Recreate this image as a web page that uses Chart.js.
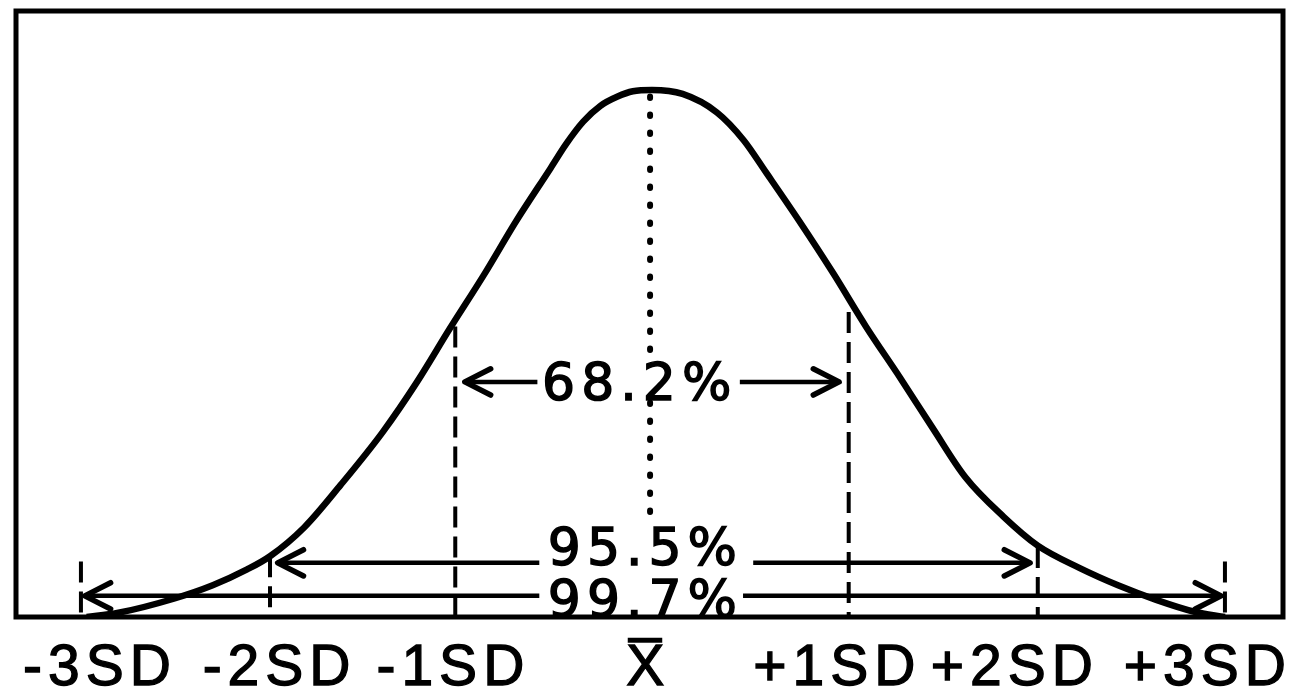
<!DOCTYPE html>
<html>
<head>
<meta charset="utf-8">
<script src="https://cdn.jsdelivr.net/npm/chart.js@4.4.0/dist/chart.umd.min.js"></script>
<style>
  html, body { margin: 0; padding: 0; background: #fff; }
  #wrap { width: 1289px; height: 699px; }
</style>
</head>
<body>
<div id="wrap"><canvas id="curveChart" width="1289" height="699"></canvas></div>
<script>
// Tick labels under the axis (x in SD units)
const tickX = [-2.89, -1.95, -1.04, -0.02, 0.97, 1.90, 2.91];
const tickLabels = ['-3SD', '-2SD', '-1SD', 'X\u0305', '+1SD', '+2SD', '+3SD'];

// Bell curve (x in SD, y as density)
const curveX = [-2.96, -2.80, -2.50, -2.30, -2.12, -2.00, -1.82, -1.63, -1.41, -1.23, -1.06, -0.88, -0.71, -0.53, -0.45, -0.36, -0.27, -0.18, -0.10, 0,
                0.16, 0.34, 0.48, 0.60, 0.77, 0.95, 1.12, 1.30, 1.47, 1.64, 1.84, 2.02, 2.24, 2.44, 2.64, 2.84, 3.00];
const curveY = [0.000, 0.003, 0.014, 0.024, 0.036, 0.046, 0.068, 0.100, 0.140, 0.178, 0.218, 0.259, 0.300, 0.340, 0.358, 0.375, 0.387, 0.394, 0.398, 0.399,
                0.396, 0.382, 0.361, 0.336, 0.300, 0.260, 0.220, 0.181, 0.143, 0.106, 0.076, 0.054, 0.037, 0.024, 0.013, 0.004, 0.000];

// Vertical SD markers (top / bottom in density units)
const markerX = [-2.99, -2.00, -1.03, -0.01, 1.03, 2.02, 3.00];
const markerTop = [0.042, 0.046, 0.220, 0.394, 0.231, 0.053, 0.042];
const markerBottom = [0, 0, 0, 0.073, 0, 0, 0];

// Percentage bands: arrow height, arrow tips, where the line stops for the text
const bandLabels = ['68.2%', '95.5%', '99.7%'];
const bandY = [0.178, 0.041, 0.016];
const bandLeft = [-0.98, -1.96, -2.97];
const bandRight = [0.98, 1.98, 2.98];
const textStart = [-0.60, -0.59, -0.59];
const textEnd = [0.46, 0.53, 0.47];
const textX = [-0.08, -0.05, -0.05];
const textBase = [0.164, 0.039, 0.0];

const INK = '#000';

const datasets = [];

datasets.push({
    data: curveX.map((x, i) => ({ x: x, y: curveY[i] })),
    borderColor: INK,
    borderWidth: 6.5,
    cubicInterpolationMode: 'monotone',
    pointRadius: 0
});

markerX.forEach((x, i) => {
    const isMean = i === 3;
    datasets.push({
        data: [{ x: x, y: markerTop[i] }, { x: x, y: markerBottom[i] }],
        borderColor: INK,
        borderWidth: isMean ? 6 : 4,
        borderDash: isMean ? [1.5, 16.5] : [21, 9],
        borderCapStyle: isMean ? 'round' : 'butt',
        pointRadius: 0
    });
});

bandLabels.forEach((label, i) => {
    // left half, ending on its arrow tip
    datasets.push({
        data: [{ x: textStart[i], y: bandY[i] }, { x: bandLeft[i], y: bandY[i] }],
        borderColor: INK,
        borderWidth: 4.5,
        pointRadius: 0,
        arrowHead: true
    });
    // right half
    datasets.push({
        data: [{ x: textEnd[i], y: bandY[i] }, { x: bandRight[i], y: bandY[i] }],
        borderColor: INK,
        borderWidth: 4.5,
        pointRadius: 0,
        arrowHead: true
    });
});

// Frame round the plot
const framePlugin = {
    id: 'frame',
    beforeDatasetsDraw(chart) {
        const { ctx, chartArea } = chart;
        ctx.save();
        ctx.strokeStyle = INK;
        ctx.lineWidth = 5;
        ctx.strokeRect(chartArea.left, chartArea.top, chartArea.right - chartArea.left, chartArea.bottom - chartArea.top);
        ctx.restore();
    }
};

// Open arrow heads at the last point of flagged datasets
const arrowPlugin = {
    id: 'arrows',
    afterDatasetsDraw(chart) {
        const ctx = chart.ctx;
        chart.data.datasets.forEach((ds, i) => {
            if (!ds.arrowHead) return;
            const pts = chart.getDatasetMeta(i).data;
            const tip = pts[pts.length - 1];
            const prev = pts[pts.length - 2];
            const ang = Math.atan2(tip.y - prev.y, tip.x - prev.x);
            const len = 29, spread = 0.47;
            ctx.save();
            ctx.strokeStyle = INK;
            ctx.lineWidth = 5.5;
            ctx.lineCap = 'round';
            ctx.lineJoin = 'round';
            ctx.beginPath();
            ctx.moveTo(tip.x - len * Math.cos(ang - spread), tip.y - len * Math.sin(ang - spread));
            ctx.lineTo(tip.x, tip.y);
            ctx.lineTo(tip.x - len * Math.cos(ang + spread), tip.y - len * Math.sin(ang + spread));
            ctx.stroke();
            ctx.restore();
        });
    }
};

// Percentage texts
const bandTextPlugin = {
    id: 'bandText',
    afterDatasetsDraw(chart) {
        const { ctx, scales } = chart;
        ctx.save();
        ctx.font = '52px "DejaVu Sans"';
        ctx.letterSpacing = '6px';
        ctx.textAlign = 'center';
        ctx.textBaseline = 'alphabetic';
        bandLabels.forEach((label, i) => {
            const px = scales.x.getPixelForValue(textX[i]) + 3;
            const py = scales.y.getPixelForValue(textBase[i]);
            const w = ctx.measureText(label).width;
            ctx.fillStyle = '#fff';
            ctx.fillRect(px - w / 2, py - 36, w, 32);
            ctx.fillStyle = INK;
            ctx.strokeStyle = INK;
            ctx.lineWidth = 1.5;
            ctx.fillText(label, px, py);
            ctx.strokeText(label, px, py);
        });
        ctx.restore();
    }
};

// Wider lettering for the tick labels
const spacingPlugin = {
    id: 'spacing',
    beforeDraw(chart) { chart.ctx.letterSpacing = '6px'; },
    afterDraw(chart) { chart.ctx.letterSpacing = '0px'; }
};

new Chart(document.getElementById('curveChart').getContext('2d'), {
    type: 'line',
    data: { datasets: datasets },
    options: {
        responsive: false,
        animation: false,
        layout: { padding: { left: 16, top: 11, right: 6, bottom: 0 } },
        plugins: { legend: { display: false }, tooltip: { enabled: false } },
        scales: {
            x: {
                type: 'linear',
                min: -3.33,
                max: 3.304,
                grid: { display: false, drawTicks: false },
                border: { display: false },
                afterBuildTicks: scale => { scale.ticks = tickX.map(v => ({ value: v })); },
                afterFit: scale => { scale.height = 82; scale.paddingLeft = 0; scale.paddingRight = 0; },
                ticks: {
                    autoSkip: false,
                    maxRotation: 0,
                    padding: 24,
                    color: INK,
                    font: { family: '"Liberation Sans"', size: 57, lineHeight: 1 },
                    textStrokeColor: INK,
                    textStrokeWidth: 1.3,
                    callback: value => tickLabels[tickX.indexOf(value)]
                }
            },
            y: {
                display: false,
                min: 0,
                max: 0.4588
            }
        }
    },
    plugins: [framePlugin, arrowPlugin, bandTextPlugin, spacingPlugin]
});
</script>
</body>
</html>
